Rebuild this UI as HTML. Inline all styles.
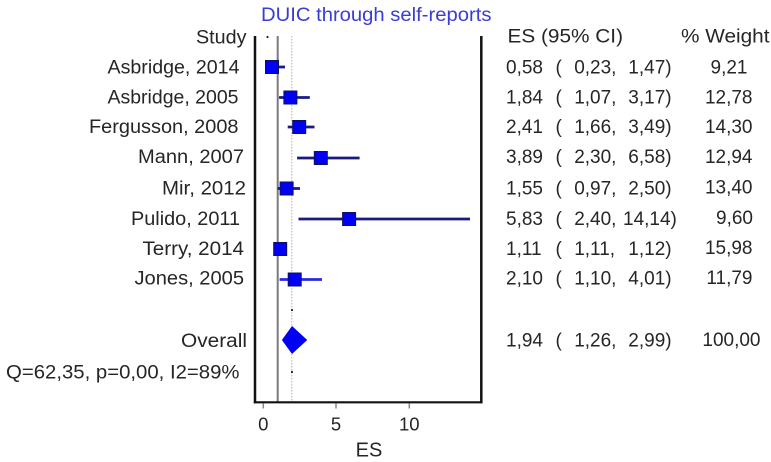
<!DOCTYPE html>
<html>
<head>
<meta charset="utf-8">
<style>
  html, body { margin:0; padding:0; background:#fff; }
  svg { display:block; }
  text { font-family: "Liberation Sans", Arial, sans-serif; fill:#262626; }
</style>
</head>
<body>
<svg width="771" height="462" viewBox="0 0 771 462" xmlns="http://www.w3.org/2000/svg">
  <rect x="0" y="0" width="771" height="462" fill="#fff"/>

  <!-- Title -->
  <text x="261" y="21" font-size="19.5" textLength="230.5" lengthAdjust="spacingAndGlyphs" style="fill:#3b3bd6">DUIC through self-reports</text>

  <!-- reference lines -->
  <line x1="277.7" y1="36" x2="277.7" y2="402" stroke="#7a7a7a" stroke-width="2"/>
  <line x1="291.8" y1="36" x2="291.8" y2="402" stroke="#b0b0b0" stroke-width="1" stroke-dasharray="1.5,1.5"/>

  <!-- box -->
  <line x1="255" y1="36" x2="255" y2="403.3" stroke="#111" stroke-width="2.5"/>
  <line x1="481.3" y1="36" x2="481.3" y2="403.3" stroke="#111" stroke-width="2.5"/>
  <line x1="253.8" y1="402.3" x2="482.5" y2="402.3" stroke="#111" stroke-width="2.2"/>

  <!-- ticks -->
  <line x1="263.3" y1="403.5" x2="263.3" y2="408.5" stroke="#888" stroke-width="1.5"/>
  <line x1="336" y1="403.5" x2="336" y2="408.5" stroke="#888" stroke-width="1.5"/>
  <line x1="409.3" y1="403.5" x2="409.3" y2="408.5" stroke="#888" stroke-width="1.5"/>
  <text x="263.3" y="430.5" font-size="18.5" text-anchor="middle">0</text>
  <text x="336" y="430.5" font-size="18.5" text-anchor="middle">5</text>
  <text x="409.3" y="430.5" font-size="18.5" text-anchor="middle">10</text>
  <text x="369" y="456.5" font-size="20" text-anchor="middle">ES</text>

  <!-- small dots -->
  <circle cx="267.5" cy="37" r="1.1" fill="#222"/>
  <circle cx="292" cy="310" r="1.1" fill="#222"/>
  <circle cx="292" cy="372" r="1.1" fill="#222"/>

  <!-- CI lines -->
  <g stroke="#1a1a80" stroke-width="2.7">
    <line x1="266.9" y1="67" x2="285" y2="67"/>
    <line x1="279.1" y1="97.5" x2="309.8" y2="97.5"/>
    <line x1="287.7" y1="127" x2="314.5" y2="127"/>
    <line x1="297.1" y1="158" x2="359.6" y2="158"/>
    <line x1="277.7" y1="188.5" x2="300" y2="188.5"/>
    <line x1="298.5" y1="219" x2="470" y2="219"/>
    <line x1="279.6" y1="279.5" x2="322" y2="279.5" stroke="#2a2ae0"/>
  </g>

  <!-- squares -->
  <g fill="#0000f5" stroke="#10105a" stroke-width="1">
    <rect x="265.5" y="60.5" width="13" height="13"/>
    <rect x="283.9" y="91" width="13" height="13"/>
    <rect x="292.7" y="120.5" width="13" height="13"/>
    <rect x="314.3" y="151.5" width="13" height="13"/>
    <rect x="280.1" y="182" width="13" height="13"/>
    <rect x="342.6" y="212.5" width="13" height="13"/>
    <rect x="273.7" y="242.5" width="13" height="13"/>
    <rect x="288.2" y="273" width="13" height="13"/>
  </g>

  <!-- overall diamond -->
  <polygon points="281.9,340 292,326 307.2,340 292,354" fill="#0000f5"/>

  <!-- left labels -->
  <g font-size="19">
    <text x="196" y="43.5" textLength="50.5" lengthAdjust="spacingAndGlyphs">Study</text>
    <text x="107.5" y="73.3" textLength="132" lengthAdjust="spacingAndGlyphs">Asbridge, 2014</text>
    <text x="107.5" y="103.3" textLength="131" lengthAdjust="spacingAndGlyphs">Asbridge, 2005</text>
    <text x="89" y="132.8" textLength="149.5" lengthAdjust="spacingAndGlyphs">Fergusson, 2008</text>
    <text x="138" y="163" textLength="106" lengthAdjust="spacingAndGlyphs">Mann, 2007</text>
    <text x="162" y="194.3" textLength="84" lengthAdjust="spacingAndGlyphs">Mir, 2012</text>
    <text x="131" y="225" textLength="109" lengthAdjust="spacingAndGlyphs">Pulido, 2011</text>
    <text x="142.5" y="254.8" textLength="101.5" lengthAdjust="spacingAndGlyphs">Terry, 2014</text>
    <text x="134.5" y="284.3" textLength="109.5" lengthAdjust="spacingAndGlyphs">Jones, 2005</text>
    <text x="181" y="347" textLength="66" lengthAdjust="spacingAndGlyphs">Overall</text>
    <text x="6" y="378.5" textLength="233.5" lengthAdjust="spacingAndGlyphs">Q=62,35, p=0,00, I2=89%</text>
  </g>

  <!-- ES column -->
  <g font-size="19">
    <text x="507.5" y="42.5" textLength="115.5" lengthAdjust="spacingAndGlyphs">ES (95% CI)</text>

    <text x="506" y="73.3">0,58</text><text x="555.5" y="73.3">(</text><text x="574.2" y="73.3">0,23,</text><text x="628.3" y="73.3">1,47)</text>
    <text x="506" y="103.3">1,84</text><text x="555.5" y="103.3">(</text><text x="574.2" y="103.3">1,07,</text><text x="628.3" y="103.3">3,17)</text>
    <text x="506" y="132.8">2,41</text><text x="555.5" y="132.8">(</text><text x="574.2" y="132.8">1,66,</text><text x="628.3" y="132.8">3,49)</text>
    <text x="506" y="162.8">3,89</text><text x="555.5" y="162.8">(</text><text x="574.2" y="162.8">2,30,</text><text x="628.3" y="162.8">6,58)</text>
    <text x="506" y="194.3">1,55</text><text x="555.5" y="194.3">(</text><text x="574.2" y="194.3">0,97,</text><text x="628.3" y="194.3">2,50)</text>
    <text x="506" y="225">5,83</text><text x="555.5" y="225">(</text><text x="574.2" y="225">2,40,</text><text x="623" y="225">14,14)</text>
    <text x="506" y="254.8">1,11</text><text x="555.5" y="254.8">(</text><text x="574.2" y="254.8">1,11,</text><text x="628.3" y="254.8">1,12)</text>
    <text x="506" y="284.3">2,10</text><text x="555.5" y="284.3">(</text><text x="574.2" y="284.3">1,10,</text><text x="628.3" y="284.3">4,01)</text>
    <text x="506" y="346.5">1,94</text><text x="555.5" y="346.5">(</text><text x="574.2" y="346.5">1,26,</text><text x="628.3" y="346.5">2,99)</text>
  </g>

  <!-- Weight column -->
  <g font-size="19" text-anchor="end">
    <text x="770" y="42.5" text-anchor="start" dx="-89" textLength="88.5" lengthAdjust="spacingAndGlyphs">% Weight</text>
    <text x="747.5" y="73.3">9,21</text>
    <text x="752.5" y="103.3">12,78</text>
    <text x="752.5" y="132.8">14,30</text>
    <text x="752.5" y="162.8">12,94</text>
    <text x="752.5" y="193.5">13,40</text>
    <text x="753" y="224">9,60</text>
    <text x="752.5" y="254">15,98</text>
    <text x="752.5" y="283.8">11,79</text>
    <text x="760.5" y="346">100,00</text>
  </g>
</svg>
</body>
</html>
